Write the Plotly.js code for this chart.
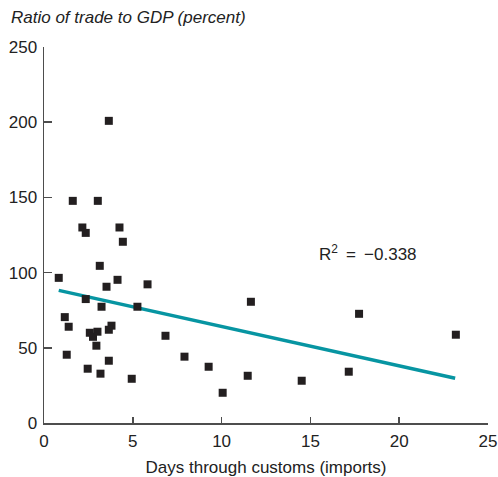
<!DOCTYPE html>
<html>
<head>
<meta charset="utf-8">
<script src="https://cdn.plot.ly/plotly-3.0.1.min.js"></script>
<style>html,body{margin:0;padding:0;background:#fff;}#chart{width:498px;height:477px;}</style>
</head>
<body>
<div id="chart"></div>
<script>
var days = [3.65,1.62,3.03,2.16,2.35,4.25,4.44,3.14,0.83,4.14,5.83,3.52,2.35,3.24,5.26,11.65,17.74,1.17,1.39,3.80,3.65,3.01,2.58,2.76,6.84,23.19,2.95,1.28,7.91,3.65,2.46,9.27,3.18,17.16,11.47,4.94,14.51,10.06];
var ratio = [200.9,147.7,147.7,130.0,126.4,130.0,120.5,104.5,96.5,95.2,92.2,90.6,82.4,77.3,77.3,80.6,72.6,70.4,64.0,64.7,62.0,60.7,60.0,57.3,58.0,58.7,51.4,45.4,44.1,41.4,36.1,37.4,32.8,34.1,31.4,29.4,28.1,20.1];
var trendX = [0.83, 23.15];
var trendY = [88.2, 29.7];
var xTicks = [0,5,10,15,20,25];
var yTicks = [0,50,100,150,200,250];
var rLabel = 'R<sup>2</sup>\u2009 = \u2009\u22120.338';

var axisColor = '#4d4d4d';
var fnt = {family: 'Liberation Sans, Arial, sans-serif', size: 17, color: '#222'};

var data = [
  {x: trendX, y: trendY, mode: 'lines', type: 'scatter', line: {color: '#0795a2', width: 3.5}, hoverinfo: 'none'},
  {x: days, y: ratio, mode: 'markers', type: 'scatter', marker: {symbol: 'square', size: 8, color: '#231f20'}}
];
var layout = {
  width: 498, height: 477,
  margin: {l: 44.3, r: 10.3, t: 46.7, b: 54},
  showlegend: false,
  paper_bgcolor: '#fff', plot_bgcolor: '#fff',
  font: fnt,
  xaxis: {range: [0, 25], tickvals: xTicks, ticktext: xTicks.map(String), ticks: 'inside', ticklen: 6, tickcolor: axisColor, tickwidth: 1.5,
          showline: true, linecolor: axisColor, linewidth: 1.5, showgrid: false, zeroline: false, tickfont: fnt, ticklabelstandoff: 2,
          title: {text: 'Days through customs (imports)', font: fnt, standoff: 12}},
  yaxis: {range: [0, 250], tickvals: yTicks, ticktext: yTicks.map(String), ticks: 'inside', ticklen: 8, tickcolor: axisColor, tickwidth: 1.5,
          showline: true, linecolor: axisColor, linewidth: 1.5, showgrid: false, zeroline: false, tickfont: fnt, ticklabelstandoff: 2},
  annotations: [
    {xref: 'paper', yref: 'paper', x: -0.0796, y: 1.079, xanchor: 'left', yanchor: 'middle', showarrow: false,
     text: '<i>Ratio of trade to GDP (percent)</i>', font: fnt},
    {xref: 'x', yref: 'y', x: 18.25, y: 113, xanchor: 'center', yanchor: 'middle', showarrow: false, text: rLabel, font: fnt}
  ]
};
Plotly.newPlot('chart', data, layout, {staticPlot: true, displayModeBar: false});
</script>
</body>
</html>
